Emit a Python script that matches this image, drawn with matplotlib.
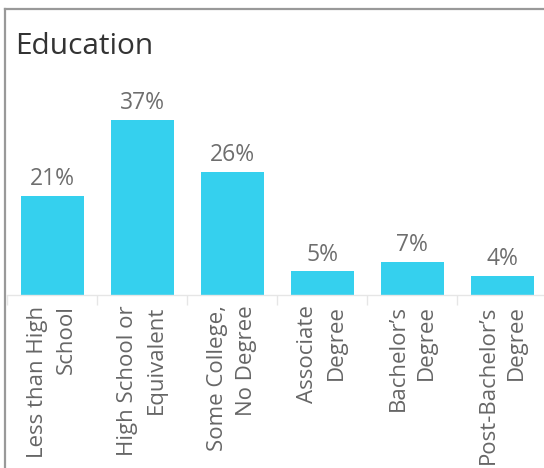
import matplotlib
matplotlib.use("Agg")
import matplotlib.pyplot as plt
from matplotlib.lines import Line2D
import numpy as np

# Education attainment shares
categories = ["Less than High\nSchool", "High School or\nEquivalent", "Some College,\nNo Degree",
              "Associate\nDegree", "Bachelor\u2019s\nDegree", "Post-Bachelor\u2019s\nDegree"]
shares = [21, 37, 26, 5, 7, 4]

plt.rcParams['font.family'] = ['Open Sans', 'DejaVu Sans']

fig = plt.figure(figsize=(5.44, 4.68), dpi=100)
W, H = 544, 468

# panel frame (top and left edges)
fig.add_artist(Line2D([5 / W, 1], [1 - 9 / H, 1 - 9 / H], color="#999999", lw=1.6))
fig.add_artist(Line2D([5 / W, 5 / W], [0, 1 - 9 / H], color="#999999", lw=1.6))

fig.text(15 / W, 1 - 54 / H, "Education", fontsize=21.5, color="#333333", va="baseline", ha="left")

ax = fig.add_axes([7 / W, 173 / H, 540 / W, 189 / H])
x = np.arange(len(categories))
ax.bar(x, shares, width=0.7, color="#35d0ee")
ax.set_xlim(-0.5, len(categories) - 0.5)
ax.set_ylim(0, 40)

for xi, v in zip(x, shares):
    ax.annotate(f"{v}%", (xi, v), xytext=(0, 3.5), textcoords="offset points",
                ha="center", va="bottom", fontsize=16.5, color="#6e6e6e")

for s in ["top", "right", "left"]:
    ax.spines[s].set_visible(False)
ax.spines["bottom"].set_color("#e6e6e6")
ax.spines["bottom"].set_linewidth(1)
ax.set_yticks([])

# separators between categories
ax.set_xticks(np.arange(len(categories) + 1) - 0.5, minor=False)
ax.set_xticklabels([])
ax.tick_params(axis="x", length=7.5, color="#e6e6e6", width=1)

for xi, lab in zip(x, categories):
    ax.annotate(lab, (xi, 0), xytext=(0, -7.5), textcoords="offset points",
                rotation=90, ha="center", va="top", multialignment="right",
                fontsize=16, color="#666666", linespacing=1.45)

fig.savefig("out.png", dpi=100)
